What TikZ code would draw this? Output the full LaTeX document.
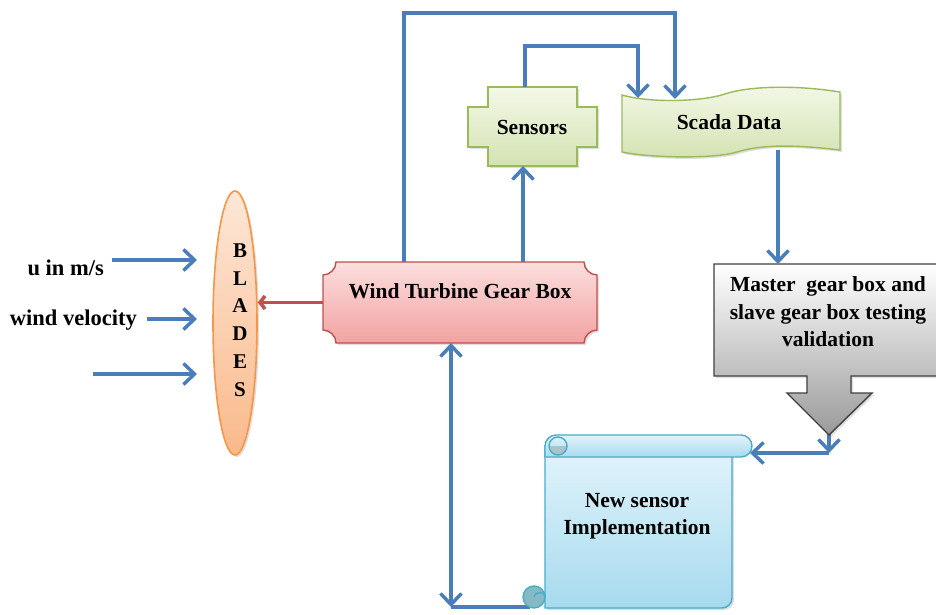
\documentclass[tikz,border=0pt]{standalone}
\usepackage{fontspec}
\setmainfont{Liberation Serif}
\usetikzlibrary{arrows.meta,shapes.geometric,shadows,calc}
\definecolor{cblue}{HTML}{4A7EBB}
\definecolor{cred}{HTML}{C0504D}
\definecolor{gearB}{HTML}{C0504D}
\definecolor{gearT}{HTML}{FBDEDE}
\definecolor{gearBot}{HTML}{F3A2A2}
\definecolor{grnB}{HTML}{9BBB59}
\definecolor{grnT}{HTML}{F4F8E8}
\definecolor{grnBot}{HTML}{D3E3B2}
\definecolor{orB}{HTML}{F79646}
\definecolor{orT}{HTML}{FDE7D8}
\definecolor{orBot}{HTML}{FAB98A}
\definecolor{grayB}{HTML}{404040}
\definecolor{grayBot}{HTML}{9A9A9A}
\definecolor{scrB}{HTML}{4BACC6}
\definecolor{scrT}{HTML}{E2F4FB}
\definecolor{scrBot}{HTML}{A6DAEE}
\definecolor{curlA}{HTML}{A9C3CB}
\definecolor{curlB}{HTML}{86B9C6}
\tikzset{
  bhead/.tip={Straight Barb[length=11pt,width=21pt]},
  conn/.style={draw=cblue, line width=3.5pt, -bhead},
  dconn/.style={draw=cblue, line width=3.5pt, bhead-bhead},
  plainconn/.style={draw=cblue, line width=3.5pt},
  redconn/.style={draw=cred, line width=3.5pt, -{Straight Barb[length=5pt,width=13pt]}},
  holder/.style={inner sep=0pt, outer sep=0pt, draw=none},
  shad/.style={drop shadow={opacity=0.25, shadow xshift=2pt, shadow yshift=-2pt}},
  gearfill/.style={draw=gearB, line width=1.4pt, top color=gearT, bottom color=gearBot},
  grnfill/.style={draw=grnB, line width=1.4pt, top color=grnT, bottom color=grnBot},
  grayfill/.style={draw=grayB, line width=1.4pt, top color=white, bottom color=grayBot},
  scrfill/.style={draw=scrB, line width=1.4pt, top color=scrT, bottom color=scrBot},
  lbl/.style={font=\bfseries\fontsize{22.5}{27}\selectfont, inner sep=0pt},
}
\begin{document}
\begin{tikzpicture}[x=1pt,y=-1pt, font=\bfseries\fontsize{21.5}{27.5}\selectfont]
\useasboundingbox (0,0) rectangle (936,615);
\fill[white] (0,0) rectangle (936,615);
\clip (0,0) rectangle (936,615);

% holder nodes
\node[holder, minimum width=274pt, minimum height=81pt] (gear) at (460,302.5) {};
\node[holder, minimum width=129pt, minimum height=79pt] (sens) at (532.5,126.5) {};
\node[holder, minimum width=218pt, minimum height=60pt] (scada) at (731,123) {};
\node[holder, minimum width=230pt, minimum height=112pt] (master) at (829,320) {};
\node[holder, minimum width=229pt, minimum height=173pt] (scroll) at (637.5,521.5) {};

% coordinates
\coordinate (sIn1) at (638,98);
\coordinate (sIn2) at (675,99);
\coordinate (sOut) at (778,150);
\coordinate (mTip) at (829,435);
\coordinate (mElbow) at (829,453);
\coordinate (scrIn) at (750,453);
\coordinate (topA) at (404,13);
\coordinate (topB) at (525,46);
\coordinate (botC) at (451,607);
\coordinate (scrCurl) at (530,607);
\coordinate (in1) at (112,260);
\coordinate (in2) at (147,319);
\coordinate (in3) at (93,374);
\coordinate (inEnd) at (197,0);

% connectors hidden behind shapes
\draw[conn] ([yshift=30pt]mTip) -- (mElbow);
\draw[plainconn] (botC) -- (scrCurl);

% blades
\node[ellipse, draw=orB, line width=1.6pt, top color=orT, bottom color=orBot, shad,
      minimum width=44pt, minimum height=264pt, inner sep=0pt] (blades) at (235,323) {};
\node[align=center, inner sep=0pt, font=\bfseries\fontsize{21}{27.8}\selectfont] (bladetext) at (240,320) {B\\L\\A\\D\\E\\S};

% gear box
\path[gearfill, shad] (336,262) -- (584,262) .. controls (584,269) and (590,275) .. (597,275)
  -- (597,330) .. controls (590,330) and (584,336) .. (584,343)
  -- (336,343) .. controls (336,336) and (330,330) .. (323,330)
  -- (323,275) .. controls (330,275) and (336,269) .. (336,262) -- cycle;
\node (geartext) at (460,291) {Wind Turbine Gear Box};

% sensors
\path[grnfill, shad] (488,87) -- (577,87) -- (577,107) -- (597,107) -- (597,147) -- (577,147)
  -- (577,166) -- (488,166) -- (488,147) -- (468,147) -- (468,107) -- (488,107) -- cycle;
\node (senstext) at (532,127) {Sensors};

% scada data
\path[grnfill, shad] (622,95) .. controls (650,103) and (700,102) .. (725,94)
  .. controls (745,87) and (790,84) .. (840,92) -- (840,150)
  .. controls (790,144) and (760,145) .. (737,152)
  .. controls (715,159) and (650,158) .. (622,152) -- cycle;
\node (scadatext) at (729,122) {Scada Data};

% master callout
\path[grayfill, shad] (714,264) -- (944,264) -- (944,376) -- (851,376) -- (851,393) -- (872,393)
  -- (829,435) -- (787,393) -- (807,393) -- (807,376) -- (714,376) -- cycle;
\node[align=center] (mastertext) at (828,312) {Master\ \ gear box and\\slave gear box testing\\validation};

% scroll
\path[scrfill, shad] (545,446) -- (545,608) -- (722,608) .. controls (727.5,608) and (732,603.5) .. (732,598)
  -- (732,446) -- cycle;
\path[scrfill] (545,446) .. controls (545,440) and (550,435) .. (556,435) -- (741,435)
  .. controls (747,435) and (752,440) .. (752,446) .. controls (752,452) and (747,457) .. (741,457)
  -- (545,457) -- cycle;
\fill[curlA] (549,446) arc[start angle=180, end angle=0, radius=9] -- cycle;
\draw[scrB, line width=1.4pt] (558,446) circle[radius=9];
\draw[scrB, line width=1.4pt, fill=curlB] (534,597) circle[radius=11];
\draw[scrB, line width=1.4pt] (534,597) .. controls (534,592) and (545,590) .. (545,597);
\node[align=center] (scrolltext) at (637,516) {New sensor\\Implementation};

% connectors
\draw[conn] ([xshift=-56pt]gear.north) -- (topA) -| (sIn2);
\draw[conn] ([xshift=-7.5pt]sens.north) -- (topB) -| (sIn1);
\draw[conn] ([xshift=63pt]gear.north) -- ([xshift=63pt]gear.north |- sens.south);
\draw[conn] (sOut) -- (sOut |- master.north);
\draw[conn] (mElbow) -- (scrIn);
\draw[dconn] ([xshift=-9pt]gear.south) -- (botC);
\draw[redconn] (gear.west) -- (gear.west -| blades.east);

% inputs
\draw[conn] (in1) -- (in1 -| inEnd);
\draw[conn] (in2) -- (in2 -| inEnd);
\draw[conn] (in3) -- (in3 -| inEnd);
\node[lbl, anchor=base east] (lblU) at (104,275) {u in m/s};
\node[lbl, anchor=base east] (lblW) at (137,325) {wind velocity};
\end{tikzpicture}
\end{document}
